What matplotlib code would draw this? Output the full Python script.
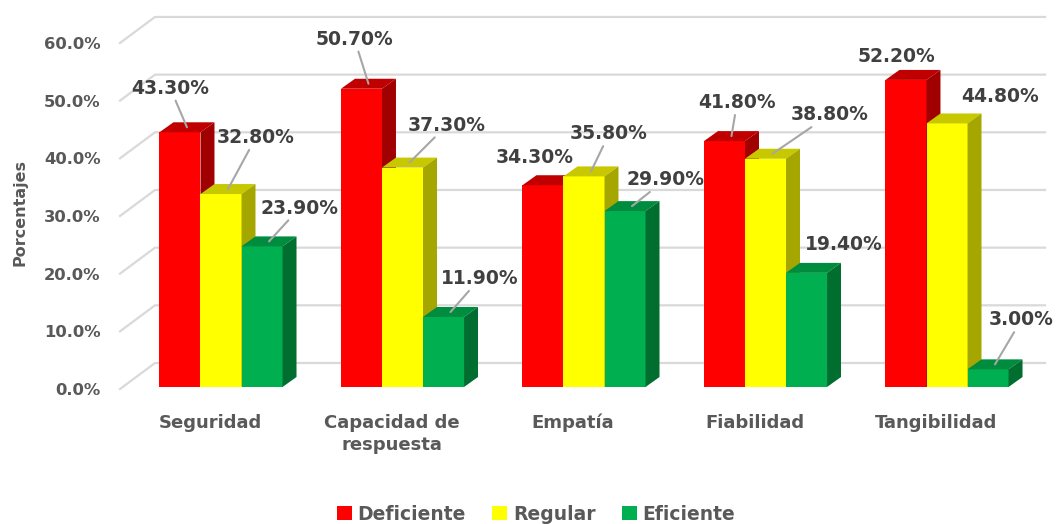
import matplotlib.pyplot as plt
from matplotlib.patches import Patch

# data
categories = ["Seguridad", "Capacidad de\nrespuesta", "Empatía", "Fiabilidad", "Tangibilidad"]
series_names = ["Deficiente", "Regular", "Eficiente"]
deficiente = [43.3, 50.7, 34.3, 41.8, 52.2]
regular = [32.8, 37.3, 35.8, 38.8, 44.8]
eficiente = [23.9, 11.9, 29.9, 19.4, 3.0]
y_ticks = [0, 10, 20, 30, 40, 50, 60]

# colours of the front, top and side faces
front_colors = ["#FF0000", "#FFFF00", "#00B050"]
top_colors = ["#C00000", "#C8C800", "#008C3E"]
side_colors = ["#A00000", "#A6A600", "#006E2E"]

# data label offsets (points) from the bar top, and where a leader line is drawn
label_offsets = [
    [(-12, 28), (-10, 32), (-11, 16), (4, 24), (-12, 13)],
    [(20, 37), (27, 27), (13, 27), (41, 28), (33, 16)],
    [(22, 24), (21, 24), (24, 19), (22, 17), (19, 32)],
]
leaders = [
    [1, 1, 0, 1, 0],
    [1, 1, 1, 1, 0],
    [1, 1, 1, 0, 1],
]

bar_w = 0.226
depth_x, depth_y = 0.077, 1.73    # depth of the 3d bars
wall_x, wall_y = 0.193, 4.51      # offset of the back wall
persp, base = 1.02, 0.35          # bars stand a bit behind the front edge
text_gray = "#595959"

fig = plt.figure(figsize=(10.57, 5.24), dpi=100)
ax = fig.add_axes([120 / 1057, 124 / 524, 937 / 1057, 400 / 524])
x_min, x_max = -0.5565, 4.606
ax.set_xlim(x_min, x_max)
ax.set_ylim(-1.907, 67.45)
for s in ax.spines.values():
    s.set_visible(False)

# gridlines: short diagonal on the floor side + line on the back wall
x_end = 4.54
for t in y_ticks:
    ax.plot([x_min, x_min + wall_x, x_end], [t, t + wall_y, t + wall_y],
            color="#D9D9D9", lw=1.6, zorder=1, clip_on=False)

data = [deficiente, regular, eficiente]
for i in range(len(categories)):
    for k, vals in enumerate(data):
        x0 = i + (k - 1) * bar_w - bar_w / 2
        x1 = x0 + bar_w
        top = base + vals[i] * persp
        z = 2 + i * 3 + k
        # front face
        ax.fill([x0, x1, x1, x0], [base, base, top, top],
                color=front_colors[k], lw=0, zorder=z)
        # top face
        ax.fill([x0, x1, x1 + depth_x, x0 + depth_x],
                [top, top, top + depth_y, top + depth_y],
                color=top_colors[k], lw=0, zorder=z)
        # side face
        ax.fill([x1, x1 + depth_x, x1 + depth_x, x1],
                [base, base + depth_y, top + depth_y, top],
                color=side_colors[k], lw=0, zorder=z)

        arrow = None
        if leaders[k][i]:
            arrow = dict(arrowstyle="-", color="#A6A6A6", lw=1.5,
                         shrinkA=0, shrinkB=0)
        ax.annotate(f"{vals[i]:.2f}%",
                    xy=(x0 + bar_w / 2 + depth_x / 2, top + depth_y / 2),
                    xytext=label_offsets[k][i], textcoords="offset points",
                    ha="center", va="center", fontsize=13.5, fontweight="bold",
                    color="#404040", arrowprops=arrow, zorder=30)

# axes labels
ax.set_xticks([i - 0.06 for i in range(len(categories))], categories)
ax.tick_params(axis="x", length=0, pad=10, labelsize=13, labelcolor=text_gray)
for lbl in ax.get_xticklabels():
    lbl.set_fontweight("bold")
    lbl.set_linespacing(1.3)

ax.set_yticks(y_ticks, [f"{t:.1f}%" for t in y_ticks])
ax.tick_params(axis="y", length=0, pad=14, labelsize=11.8, labelcolor=text_gray)
for lbl in ax.get_yticklabels():
    lbl.set_fontweight("bold")

fig.text(20 / 1057, 1 - 212 / 524, "Porcentajes", rotation=90, ha="center",
         va="center", fontsize=11.5, fontweight="bold", color=text_gray)

handles = [Patch(facecolor=c, edgecolor="none") for c in front_colors]
fig.legend(handles, series_names, loc="center", bbox_to_anchor=(536 / 1057, 10 / 524),
           ncol=3, frameon=False, handlelength=0.8, handleheight=0.8,
           handletextpad=0.3, columnspacing=1.4,
           prop={"size": 13.5, "weight": "bold"}, labelcolor=text_gray)

fig.savefig("out.png", dpi=100)
